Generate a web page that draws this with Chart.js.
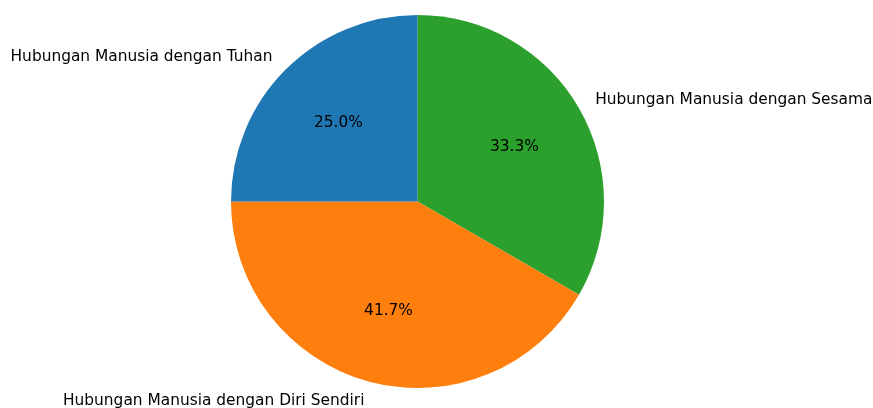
<!DOCTYPE html>
<html>
<head>
<meta charset="utf-8">
<script src="https://cdn.jsdelivr.net/npm/chart.js@4.4.0/dist/chart.umd.min.js"></script>
<style>
  html, body { margin: 0; padding: 0; background: #fff; }
  #wrap { width: 873px; height: 408px; position: relative; }
</style>
</head>
<body>
<div id="wrap"><canvas id="myChart"></canvas></div>
<script>
// data (clockwise from top, as Chart.js draws it)
var categories = ['Hubungan Manusia dengan Sesama', 'Hubungan Manusia dengan Diri Sendiri', 'Hubungan Manusia dengan Tuhan'];
var counts = [4, 5, 3];
var colors = ['#2ca02c', '#ff7f0e', '#1f77b4'];

var FONT = '15.4px "DejaVu Sans"';

// labels outside (1.1 r) and percentages inside (0.6 r), like matplotlib
var pieLabels = {
    id: 'pieLabels',
    afterDatasetsDraw: function(chart) {
        var ctx = chart.ctx;
        var meta = chart.getDatasetMeta(0);
        var total = counts.reduce(function(a, b){ return a + b; }, 0);
        ctx.save();
        ctx.font = FONT;
        ctx.fillStyle = '#000';
        ctx.textBaseline = 'middle';
        for (var i = 0; i < meta.data.length; i++) {
            var arc = meta.data[i];
            var mid = (arc.startAngle + arc.endAngle) / 2;
            var r = arc.outerRadius;
            var cx = Math.cos(mid), cy = Math.sin(mid);
            // percentage
            ctx.textAlign = 'center';
            var pct = (counts[i] / total * 100).toFixed(1) + '%';
            ctx.fillText(pct, arc.x + 0.6 * r * cx, arc.y + 0.6 * r * cy + 1);
            // category
            ctx.textAlign = cx < 0 ? 'right' : 'left';
            ctx.fillText(categories[i], arc.x + 1.1 * r * cx, arc.y + 1.1 * r * cy + 1);
        }
        ctx.restore();
    }
};

var ctx = document.getElementById('myChart').getContext('2d');
var myChart = new Chart(ctx, {
    type: 'pie',
    data: {
        labels: categories,
        datasets: [{
            data: counts,
            backgroundColor: colors,
            borderWidth: 0
        }]
    },
    options: {
        responsive: true,
        maintainAspectRatio: false,
        animation: false,
        layout: { padding: { top: 15, bottom: 20, left: 0, right: 38 } },
        plugins: {
            legend: { display: false },
            tooltip: { enabled: false }
        }
    },
    plugins: [pieLabels]
});
</script>
</body>
</html>
